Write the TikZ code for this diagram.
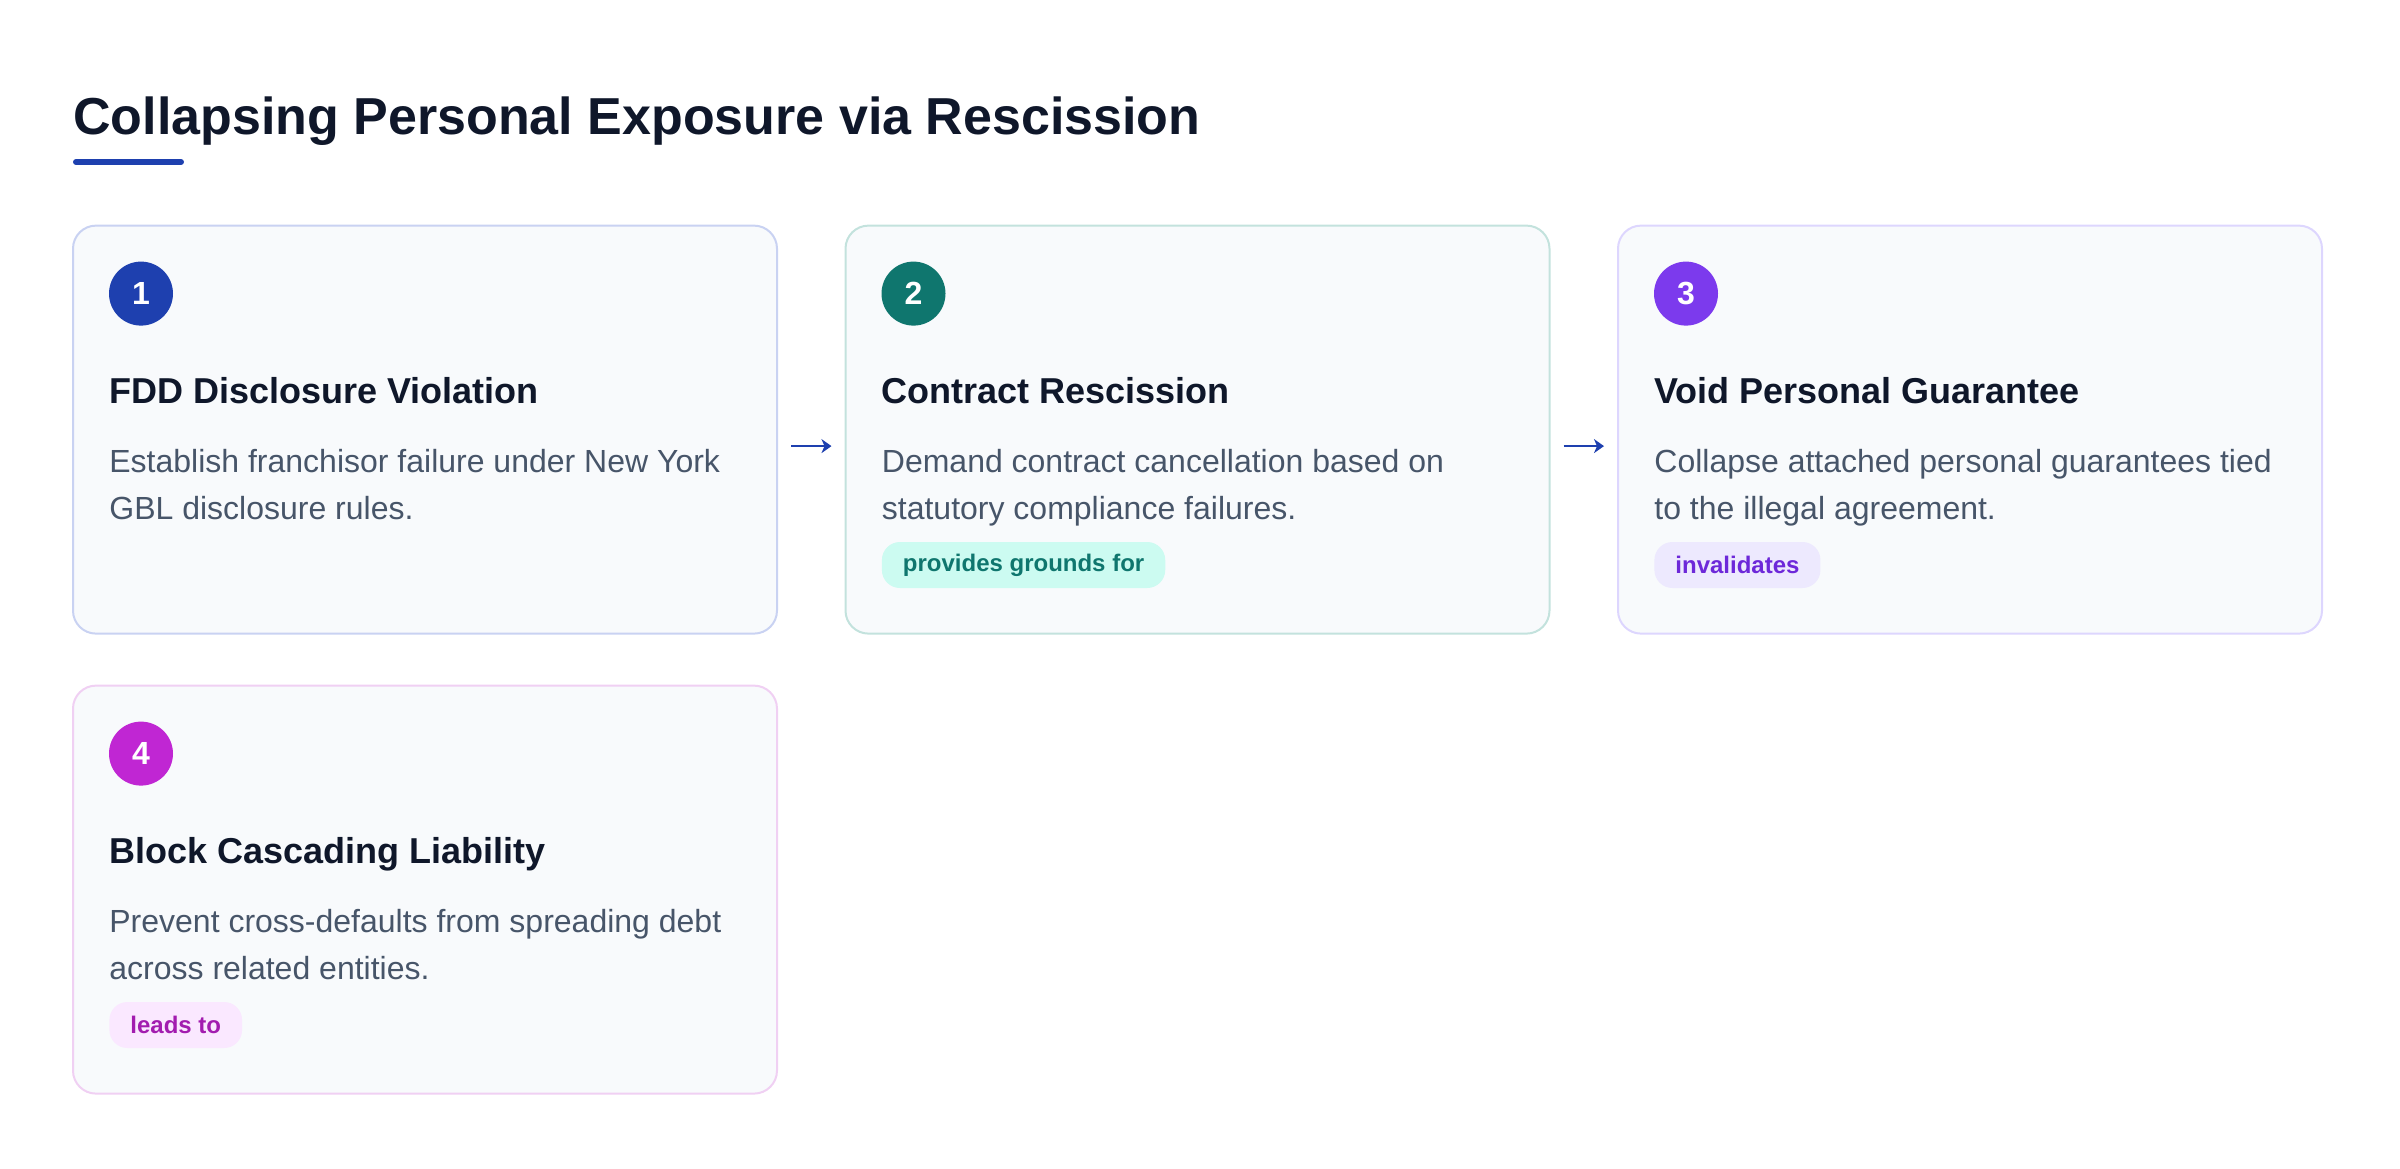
\documentclass[tikz,border=0pt]{standalone}
\usepackage{fontspec}
\setmainfont{Liberation Sans}
\usetikzlibrary{arrows.meta,positioning}
\definecolor{ink}{HTML}{0F172A}
\definecolor{slate}{HTML}{475569}
\definecolor{cardbg}{HTML}{F8FAFC}
\definecolor{navy}{HTML}{1E40AF}
\definecolor{teal}{HTML}{0F766E}
\definecolor{violet}{HTML}{7C3AED}
\definecolor{fuchsia}{HTML}{C026D3}
\definecolor{edgeA}{HTML}{C9D2F2}
\definecolor{edgeB}{HTML}{C3E2DD}
\definecolor{edgeC}{HTML}{DDD6FE}
\definecolor{edgeD}{HTML}{F0D0F3}
\definecolor{tagB}{HTML}{CCFBF1}
\definecolor{tagC}{HTML}{EDE9FE}
\definecolor{tagD}{HTML}{FAE8FF}
\definecolor{tagtextC}{HTML}{6D28D9}
\definecolor{tagtextD}{HTML}{A21CAF}

\begin{document}
\begin{tikzpicture}[x=1pt,y=1pt,node distance=33.25pt,inner sep=0pt,
		>={Stealth[length=5pt,width=7pt,inset=1.5pt]}]
		\tikzstyle{card}=[draw,line width=1pt,fill=cardbg,rounded corners=11.5pt,
			minimum width=352pt,minimum height=204pt,anchor=north west]
		\tikzstyle{num}=[circle,minimum size=32pt,text=white,
			font=\bfseries\fontsize{16}{16}\selectfont]
		\tikzstyle{head}=[anchor=base west,text=ink,font=\bfseries\fontsize{18}{22}\selectfont]
		\tikzstyle{body}=[anchor=base west,align=left,text=slate,
			font=\fontsize{16}{23.5}\selectfont]
		\tikzstyle{tag}=[anchor=north west,rounded corners=9pt,minimum height=23pt,
			inner xsep=10.5pt,font=\bfseries\fontsize{12}{14}\selectfont]

		\useasboundingbox (0,0) rectangle (1200,-584);

		\node[anchor=base west,text=ink,font=\bfseries\fontsize{26}{30}\selectfont]
			(title) at (36.5,-67) {Collapsing Personal Exposure via Rescission};
		\draw[line width=3pt,line cap=round,navy] (38,-81) -- (90.5,-81);

		\node[card,draw=edgeA]	(c1) at (36,-112.3)		{};
		\node[card,draw=edgeB]	(c2) [right=of c1]		{};
		\node[card,draw=edgeC]	(c3) [right=of c2]		{};
		\node[card,draw=edgeD]	(c4) [below=25pt of c1]	{};

		\node[num,fill=navy]	(n1) at ([shift={(34.5,-34.5)}]c1.north west) {1};
		\node[head]	(h1) at ([shift={(18.5,-89.5)}]c1.north west) {FDD Disclosure Violation};
		\node[body]	(b1) at ([shift={(18.5,-147.5)}]c1.north west)
			{Establish franchisor failure under New York\\GBL disclosure rules.};

		\node[num,fill=teal]	(n2) at ([shift={(34.5,-34.5)}]c2.north west) {2};
		\node[head]	(h2) at ([shift={(18.5,-89.5)}]c2.north west) {Contract Rescission};
		\node[body]	(b2) at ([shift={(18.5,-147.5)}]c2.north west)
			{Demand contract cancellation based on\\statutory compliance failures.};
		\node[tag,fill=tagB,text=teal]	(t2) at ([shift={(18.5,-158.5)}]c2.north west) {provides grounds for};

		\node[num,fill=violet]	(n3) at ([shift={(34.5,-34.5)}]c3.north west) {3};
		\node[head]	(h3) at ([shift={(18.5,-89.5)}]c3.north west) {Void Personal Guarantee};
		\node[body]	(b3) at ([shift={(18.5,-147.5)}]c3.north west)
			{Collapse attached personal guarantees tied\\to the illegal agreement.};
		\node[tag,fill=tagC,text=tagtextC]	(t3) at ([shift={(18.5,-158.5)}]c3.north west) {invalidates};

		\node[num,fill=fuchsia]	(n4) at ([shift={(34.5,-34.5)}]c4.north west) {4};
		\node[head]	(h4) at ([shift={(18.5,-89.5)}]c4.north west) {Block Cascading Liability};
		\node[body]	(b4) at ([shift={(18.5,-147.5)}]c4.north west)
			{Prevent cross-defaults from spreading debt\\across related entities.};
		\node[tag,fill=tagD,text=tagtextD]	(t4) at ([shift={(18.5,-158.5)}]c4.north west) {leads to};

		\path[->,line width=1pt,navy,shorten <=6.5pt,shorten >=6.5pt]
			([yshift=-8.25pt]c1.east) edge ([yshift=-8.25pt]c2.west)
			([yshift=-8.25pt]c2.east) edge ([yshift=-8.25pt]c3.west);
\end{tikzpicture}
\end{document}
